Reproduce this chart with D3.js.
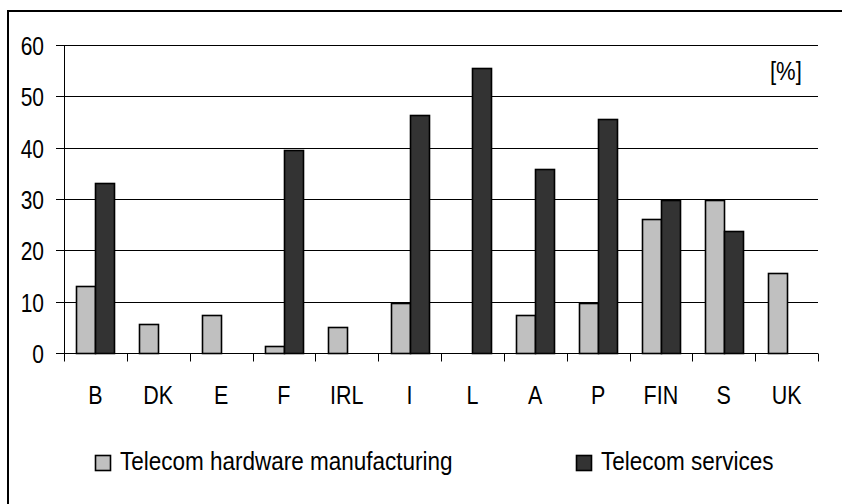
<!DOCTYPE html>
<html>
<head>
<meta charset="utf-8">
<script src="https://cdn.jsdelivr.net/npm/d3@7"></script>
<style>
html,body{margin:0;padding:0;background:#fff;}
svg{display:block;}
text{font-family:"Liberation Sans",Arial,sans-serif;fill:#000;}
</style>
</head>
<body>
<svg id="chart" width="842" height="504"></svg>
<script>
const categories = ["B","DK","E","F","IRL","I","L","A","P","FIN","S","UK"];
const hardware = [13.1, 5.7, 7.4, 1.4, 5.1, 9.7, null, 7.4, 9.7, 26.2, 29.9, 15.5];
const services = [33.2, null, null, 39.6, null, 46.3, 55.6, 35.9, 45.6, 29.9, 23.8, null];
const yTicks = [0, 10, 20, 30, 40, 50, 60];
const seriesNames = ["Telecom hardware manufacturing", "Telecom services"];
const seriesColors = ["#c0c0c0", "#333333"];
const unitLabel = "[%]";

const svg = d3.select("#chart");
const W = 842, H = 504;
const plotL = 64, plotR = 818, plotT = 45.5, plotB = 353.5;

const x = d3.scaleBand().domain(categories).range([plotL, plotR]).paddingInner(0).paddingOuter(0);
const y = d3.scaleLinear().domain([0, 60]).range([plotB, plotT]);
const crisp = v => Math.round(v - 0.5) + 0.5;

// outer frame (left and top edges visible)
svg.append("line").attr("x1", 8).attr("y1", 11).attr("x2", 8).attr("y2", H).attr("stroke", "#000").attr("stroke-width", 2);
svg.append("line").attr("x1", 7).attr("y1", 11).attr("x2", W).attr("y2", 11).attr("stroke", "#000").attr("stroke-width", 2);

// gridlines
svg.append("g").selectAll("line").data(yTicks.filter(d => d > 0)).join("line")
  .attr("x1", plotL).attr("x2", plotR)
  .attr("y1", d => crisp(y(d))).attr("y2", d => crisp(y(d)))
  .attr("stroke", "#000").attr("stroke-width", 1);

// y axis
const yAxis = d3.axisLeft(y).tickValues(yTicks).tickSize(8).tickPadding(0).tickFormat(d3.format("d"));
const yg = svg.append("g").attr("transform", `translate(${plotL},0)`).call(yAxis);
yg.select(".domain").attr("stroke", "#000").attr("d", `M0.5,${plotT}V${plotB}`);
yg.selectAll(".tick").attr("transform", d => `translate(0,${crisp(y(d))})`);
yg.selectAll(".tick line").attr("stroke", "#000");
yg.selectAll(".tick text").remove();
yg.selectAll(".tick").append("g")
  .attr("transform", "translate(-20,9) scale(0.84,1)")
  .append("text")
  .attr("text-anchor", "end")
  .attr("font-size", 25)
  .text(d => d);

// bars
const bw = 19;
const groups = svg.append("g").selectAll("g").data(categories).join("g");
groups.each(function(c, i) {
  const cx = x(c) + x.bandwidth() / 2;
  const g = d3.select(this);
  [hardware[i], services[i]].forEach((v, k) => {
    if (v == null) return;
    const top = crisp(y(v));
    g.append("rect")
      .attr("x", Math.round(cx - bw + k * bw) + 0.5)
      .attr("y", top)
      .attr("width", bw)
      .attr("height", plotB - top)
      .attr("fill", seriesColors[k])
      .attr("stroke", "#000")
      .attr("stroke-width", 1.6);
  });
});

// x axis
const xg = svg.append("g").attr("transform", `translate(0,${plotB})`);
xg.append("line").attr("x1", plotL - 8).attr("x2", plotR).attr("y1", 0).attr("y2", 0).attr("stroke", "#000");
const bounds = categories.map(c => x(c)).concat([plotR]);
xg.selectAll("line.tk").data(bounds).join("line").attr("class", "tk")
  .attr("x1", d => Math.round(d) + 0.5).attr("x2", d => Math.round(d) + 0.5)
  .attr("y1", 0).attr("y2", 8).attr("stroke", "#000");
xg.selectAll("g.lab").data(categories).join("g").attr("class", "lab")
  .attr("transform", d => `translate(${x(d) + x.bandwidth() / 2},50) scale(0.86,1)`)
  .append("text").attr("text-anchor", "middle").attr("font-size", 25).text(d => d);

// unit label
svg.append("g").attr("transform", "translate(770,80) scale(0.88,1)")
  .append("text").attr("font-size", 25).text(unitLabel);

// legend
const legX = [95, 576];
const leg = svg.append("g").selectAll("g").data(seriesNames).join("g")
  .attr("transform", (d, i) => `translate(${legX[i]},0)`);
leg.append("rect").attr("x", 0.5).attr("y", 455.5).attr("width", 15).attr("height", 15)
  .attr("fill", (d, i) => seriesColors[i]).attr("stroke", "#000").attr("stroke-width", 1.6);
leg.append("g").attr("transform", "translate(25,470) scale(0.9,1)")
  .append("text").attr("font-size", 25).text(d => d);
</script>
</body>
</html>
